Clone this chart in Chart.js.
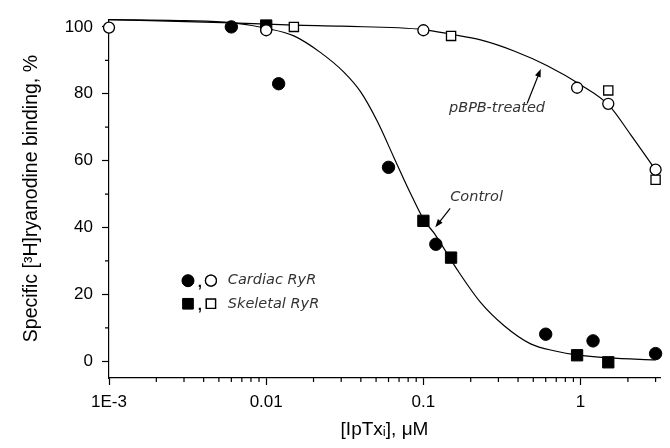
<!DOCTYPE html>
<html lang="en">
<head>
<meta charset="UTF-8">
<title>IpTx binding</title>
<script src="https://cdn.jsdelivr.net/npm/chart.js"></script>
<style>
  html, body { margin: 0; padding: 0; background: #fff; }
</style>
</head>
<body>
<canvas id="bindingChart" width="670" height="448"></canvas>
<script>
// axis ticks
const xTicks = [0.001, 0.01, 0.1, 1];
const xTickLabels = ['1E-3', '0.01', '0.1', '1'];
const yTicks = [0, 20, 40, 60, 80, 100];
const yMinorTicks = [10, 30, 50, 70, 90];

// control (filled symbols)
const cardiacCtrlX = [0.006, 0.012, 0.06, 0.12, 0.6, 1.2, 3];
const cardiacCtrlY = [100, 83, 58, 35, 8.1, 6.1, 2.3];
const skeletalCtrlX = [0.01, 0.1, 0.15, 0.95, 1.5];
const skeletalCtrlY = [100.4, 42, 31, 1.8, -0.3];

// pBPB-treated (open symbols)
const cardiacPbpbX = [0.001, 0.01, 0.1, 0.95, 1.5, 3];
const cardiacPbpbY = [99.8, 99, 99, 81.8, 77, 57.3];
const skeletalPbpbX = [0.015, 0.15, 1.5, 3];
const skeletalPbpbY = [100, 97.3, 81, 54.3];

// fitted curves
const controlFitX = [0.001, 0.003, 0.006, 0.01, 0.015, 0.0222, 0.0313, 0.04, 0.051, 0.065, 0.083, 0.101, 0.117, 0.164, 0.231, 0.325, 0.481, 0.7, 0.94, 1.5, 3];
const controlFitY = [102.2, 101.9, 101.3, 99.6, 97.3, 92.3, 86.4, 80.5, 71.7, 60.9, 50.1, 42.2, 38.3, 27.4, 17.6, 10.7, 5.2, 3, 1.9, 1, 0.4];
const pbpbFitX = [0.001, 0.006, 0.015, 0.03, 0.1, 0.15, 0.231, 0.377, 0.614, 1, 1.51, 2.08, 3];
const pbpbFitY = [102.2, 101.2, 100.5, 100.2, 99.2, 97.8, 96.1, 92.8, 88.4, 82.7, 76.6, 67.8, 57.2];

const pts = (xs, ys) => xs.map((x, i) => ({ x: x, y: ys[i] }));

const axisFont = { family: "'Liberation Sans', Arial, sans-serif", size: 17 };
const noteFont = "italic 14.5px 'DejaVu Sans', sans-serif";

// minor ticks, shorter than the labelled ones
const minorTicks = {
    id: 'minorTicks',
    afterDraw(chart) {
        const ctx = chart.ctx;
        const xs = chart.scales.x, ys = chart.scales.y;
        const area = chart.chartArea;
        ctx.save();
        ctx.strokeStyle = '#000';
        ctx.lineWidth = 1.2;
        ctx.beginPath();
        xTicks.forEach(d => {
            for (let m = 2; m <= 9; m++) {
                const v = m * d;
                if (v > xs.max) break;
                const px = xs.getPixelForValue(v);
                ctx.moveTo(px, area.bottom);
                ctx.lineTo(px, area.bottom + 4);
            }
        });
        yMinorTicks.forEach(v => {
            const py = ys.getPixelForValue(v);
            ctx.moveTo(area.left - 4, py);
            ctx.lineTo(area.left, py);
        });
        ctx.stroke();
        ctx.restore();
    }
};

// arrows, labels and the symbol key
const notes = {
    id: 'notes',
    afterDraw(chart) {
        const ctx = chart.ctx;
        const xs = chart.scales.x, ys = chart.scales.y;
        const P = (x, y) => [xs.getPixelForValue(x), ys.getPixelForValue(y)];

        ctx.save();
        ctx.fillStyle = '#333';
        ctx.strokeStyle = '#000';
        ctx.font = noteFont;
        ctx.textBaseline = 'middle';

        // labels
        ctx.textAlign = 'center';
        let p = P(0.294, 75.8);
        ctx.fillText('pBPB-treated', p[0], p[1]);
        p = P(0.218, 49.1);
        ctx.fillText('Control', p[0], p[1]);

        const arrow = (from, to) => {
            const a = P(from[0], from[1]), b = P(to[0], to[1]);
            const ang = Math.atan2(b[1] - a[1], b[0] - a[0]);
            ctx.lineWidth = 1.2;
            ctx.beginPath();
            ctx.moveTo(a[0], a[1]);
            ctx.lineTo(b[0] - 5 * Math.cos(ang), b[1] - 5 * Math.sin(ang));
            ctx.stroke();
            ctx.beginPath();
            ctx.moveTo(b[0], b[1]);
            ctx.lineTo(b[0] - 8 * Math.cos(ang) + 3 * Math.sin(ang), b[1] - 8 * Math.sin(ang) - 3 * Math.cos(ang));
            ctx.lineTo(b[0] - 8 * Math.cos(ang) - 3 * Math.sin(ang), b[1] - 8 * Math.sin(ang) + 3 * Math.cos(ang));
            ctx.closePath();
            ctx.fillStyle = '#000';
            ctx.fill();
        };
        arrow([0.457, 77.1], [0.558, 87.4]);
        arrow([0.148, 45.7], [0.119, 40.1]);

        // symbol key
        const rows = [
            { y: 24.1, filled: 'circle', open: 'circle', text: 'Cardiac RyR' },
            { y: 17.2, filled: 'rect', open: 'rect', text: 'Skeletal RyR' }
        ];
        rows.forEach(r => {
            const f = P(0.00318, r.y), o = P(0.00445, r.y), c = P(0.00378, r.y), t = P(0.0057, r.y);
            const isRect = r.filled === 'rect';
            ctx.fillStyle = '#000';
            ctx.lineWidth = 1;
            Chart.helpers.drawPoint(ctx, { pointStyle: r.filled, radius: isRect ? 7.5 : 6, borderWidth: 1 }, f[0], f[1]);
            ctx.fill();
            ctx.fillStyle = '#fff';
            ctx.lineWidth = 1.3;
            Chart.helpers.drawPoint(ctx, { pointStyle: r.open, radius: isRect ? 6.5 : 5.5, borderWidth: 1.3 }, o[0], o[1]);
            ctx.fill();
            ctx.stroke();
            ctx.fillStyle = '#000';
            ctx.font = "bold 15px 'Liberation Sans', sans-serif";
            ctx.textAlign = 'center';
            ctx.fillText(',', c[0], c[1] + 2);
            ctx.font = noteFont;
            ctx.fillStyle = '#333';
            ctx.textAlign = 'left';
            ctx.fillText(r.text, t[0], t[1]);
        });
        ctx.restore();
    }
};

const ctx = document.getElementById('bindingChart').getContext('2d');
new Chart(ctx, {
    type: 'scatter',
    data: {
        datasets: [
            {
                label: 'Cardiac RyR, pBPB',
                data: pts(cardiacPbpbX, cardiacPbpbY),
                pointStyle: 'circle', pointRadius: 5.5,
                backgroundColor: '#fff', borderColor: '#000', borderWidth: 1.3,
                clip: false
            },
            {
                label: 'Skeletal RyR, pBPB',
                data: pts(skeletalPbpbX, skeletalPbpbY),
                pointStyle: 'rect', pointRadius: 6.5,
                backgroundColor: '#fff', borderColor: '#000', borderWidth: 1.3,
                clip: false
            },
            {
                label: 'Cardiac RyR, control',
                data: pts(cardiacCtrlX, cardiacCtrlY),
                pointStyle: 'circle', pointRadius: 6.2,
                backgroundColor: '#000', borderColor: '#000', borderWidth: 1,
                clip: false
            },
            {
                label: 'Skeletal RyR, control',
                data: pts(skeletalCtrlX, skeletalCtrlY),
                pointStyle: 'rect', pointRadius: 8,
                backgroundColor: '#000', borderColor: '#000', borderWidth: 1,
                clip: false
            },
            {
                label: 'Control fit',
                data: pts(controlFitX, controlFitY),
                showLine: true, pointRadius: 0,
                borderColor: '#000', borderWidth: 1.2,
                cubicInterpolationMode: 'monotone',
                clip: false
            },
            {
                label: 'pBPB fit',
                data: pts(pbpbFitX, pbpbFitY),
                showLine: true, pointRadius: 0,
                borderColor: '#000', borderWidth: 1.2,
                cubicInterpolationMode: 'monotone',
                clip: false
            }
        ]
    },
    options: {
        responsive: false,
        animation: false,
        layout: { padding: { top: 13, right: 10, left: 0, bottom: 0 } },
        plugins: {
            legend: { display: false },
            tooltip: { enabled: false }
        },
        scales: {
            x: {
                type: 'logarithmic',
                min: 0.001,
                max: 3.2,
                afterBuildTicks: s => { s.ticks = xTicks.map(v => ({ value: v })); },
                afterFit: s => { s.height = 70; },
                grid: { drawOnChartArea: false, tickLength: 7, tickColor: '#000', tickWidth: 1.2 },
                border: { display: true, color: '#000', width: 1.2 },
                ticks: {
                    color: '#000', font: axisFont, padding: 7,
                    maxRotation: 0, autoSkip: false,
                    callback: (v, i) => xTickLabels[i]
                },
                title: {
                    display: true, text: '[IpTxᵢ], μM', color: '#000',
                    font: { family: axisFont.family, size: 19 },
                    padding: { top: 0, bottom: 7 }
                }
            },
            y: {
                min: -5,
                max: 102.3,
                afterBuildTicks: s => { s.ticks = yTicks.map(v => ({ value: v })); },
                afterFit: s => { s.width = 109; },
                grid: { drawOnChartArea: false, tickLength: 7, tickColor: '#000', tickWidth: 1.2 },
                border: { display: true, color: '#000', width: 1.2 },
                ticks: { color: '#000', font: axisFont, padding: 9 },
                title: {
                    display: true, text: 'Specific [³H]ryanodine binding, %', color: '#000',
                    font: { family: axisFont.family, size: 19.5 },
                    padding: { top: 20, bottom: 0 }
                }
            }
        }
    },
    plugins: [minorTicks, notes]
});
</script>
</body>
</html>
